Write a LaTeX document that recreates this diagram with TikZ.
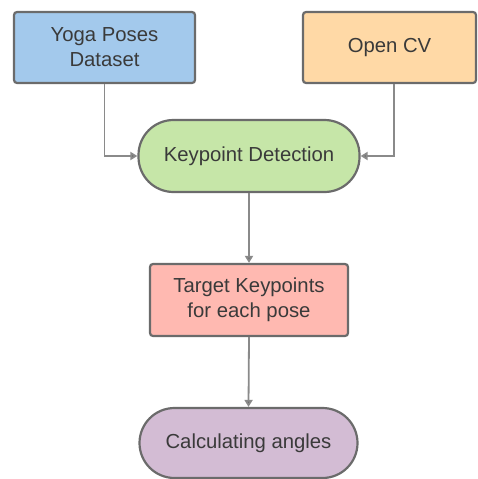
\documentclass[tikz,border=0pt]{standalone}
\usepackage{fontspec}
\setmainfont{Liberation Sans}
\usetikzlibrary{arrows.meta}
\definecolor{edgegray}{HTML}{6B6B6B}
\definecolor{linkgray}{HTML}{8A8A8A}
\definecolor{txt}{HTML}{3A3A3A}
\definecolor{fblue}{HTML}{A3C9EC}
\definecolor{forange}{HTML}{FFD9A6}
\definecolor{fgreen}{HTML}{C6E6A8}
\definecolor{fpink}{HTML}{FFB9B1}
\definecolor{fpurple}{HTML}{D3BCD4}
\tikzset{
  boxbase/.style={draw=edgegray, line width=2.2pt, text=txt, align=center,
    font=\fontsize{20.3}{25}\selectfont, inner sep=0pt},
  procbox/.style={boxbase, rectangle, rounded corners=3pt},
  termbox/.style={boxbase, rectangle, rounded corners=35pt},
  link/.style={draw=linkgray, line width=1.8pt,
    -{Triangle[length=7pt,width=8pt,fill=edgegray]}}
}
\begin{document}
\begin{tikzpicture}[x=1pt,y=-1pt]
\useasboundingbox (0,0) rectangle (477,479);
\node[procbox, fill=fblue, minimum width=181pt, minimum height=71pt] (yoga) at (104.5,47.5) {Yoga Poses\\Dataset};
\node[procbox, fill=forange, minimum width=173pt, minimum height=71pt] (ocv) at (389.5,47.5) {Open CV};
\node[termbox, fill=fgreen, minimum width=221pt, minimum height=72pt] (kp) at (249,156) {Keypoint Detection};
\node[procbox, fill=fpink, minimum width=198pt, minimum height=72pt] (tk) at (249,300) {Target Keypoints\\for each pose};
\node[termbox, fill=fpurple, minimum width=218pt, minimum height=70pt] (ca) at (248.5,443) {Calculating angles};
\draw[link] (yoga.south) |- (kp.west);
\draw[link] ([xshift=4.5pt]ocv.south) |- (kp.east);
\draw[link] (kp.south) -- (tk.north);
\draw[link] (tk.south) -- (ca.north);
\end{tikzpicture}
\end{document}
